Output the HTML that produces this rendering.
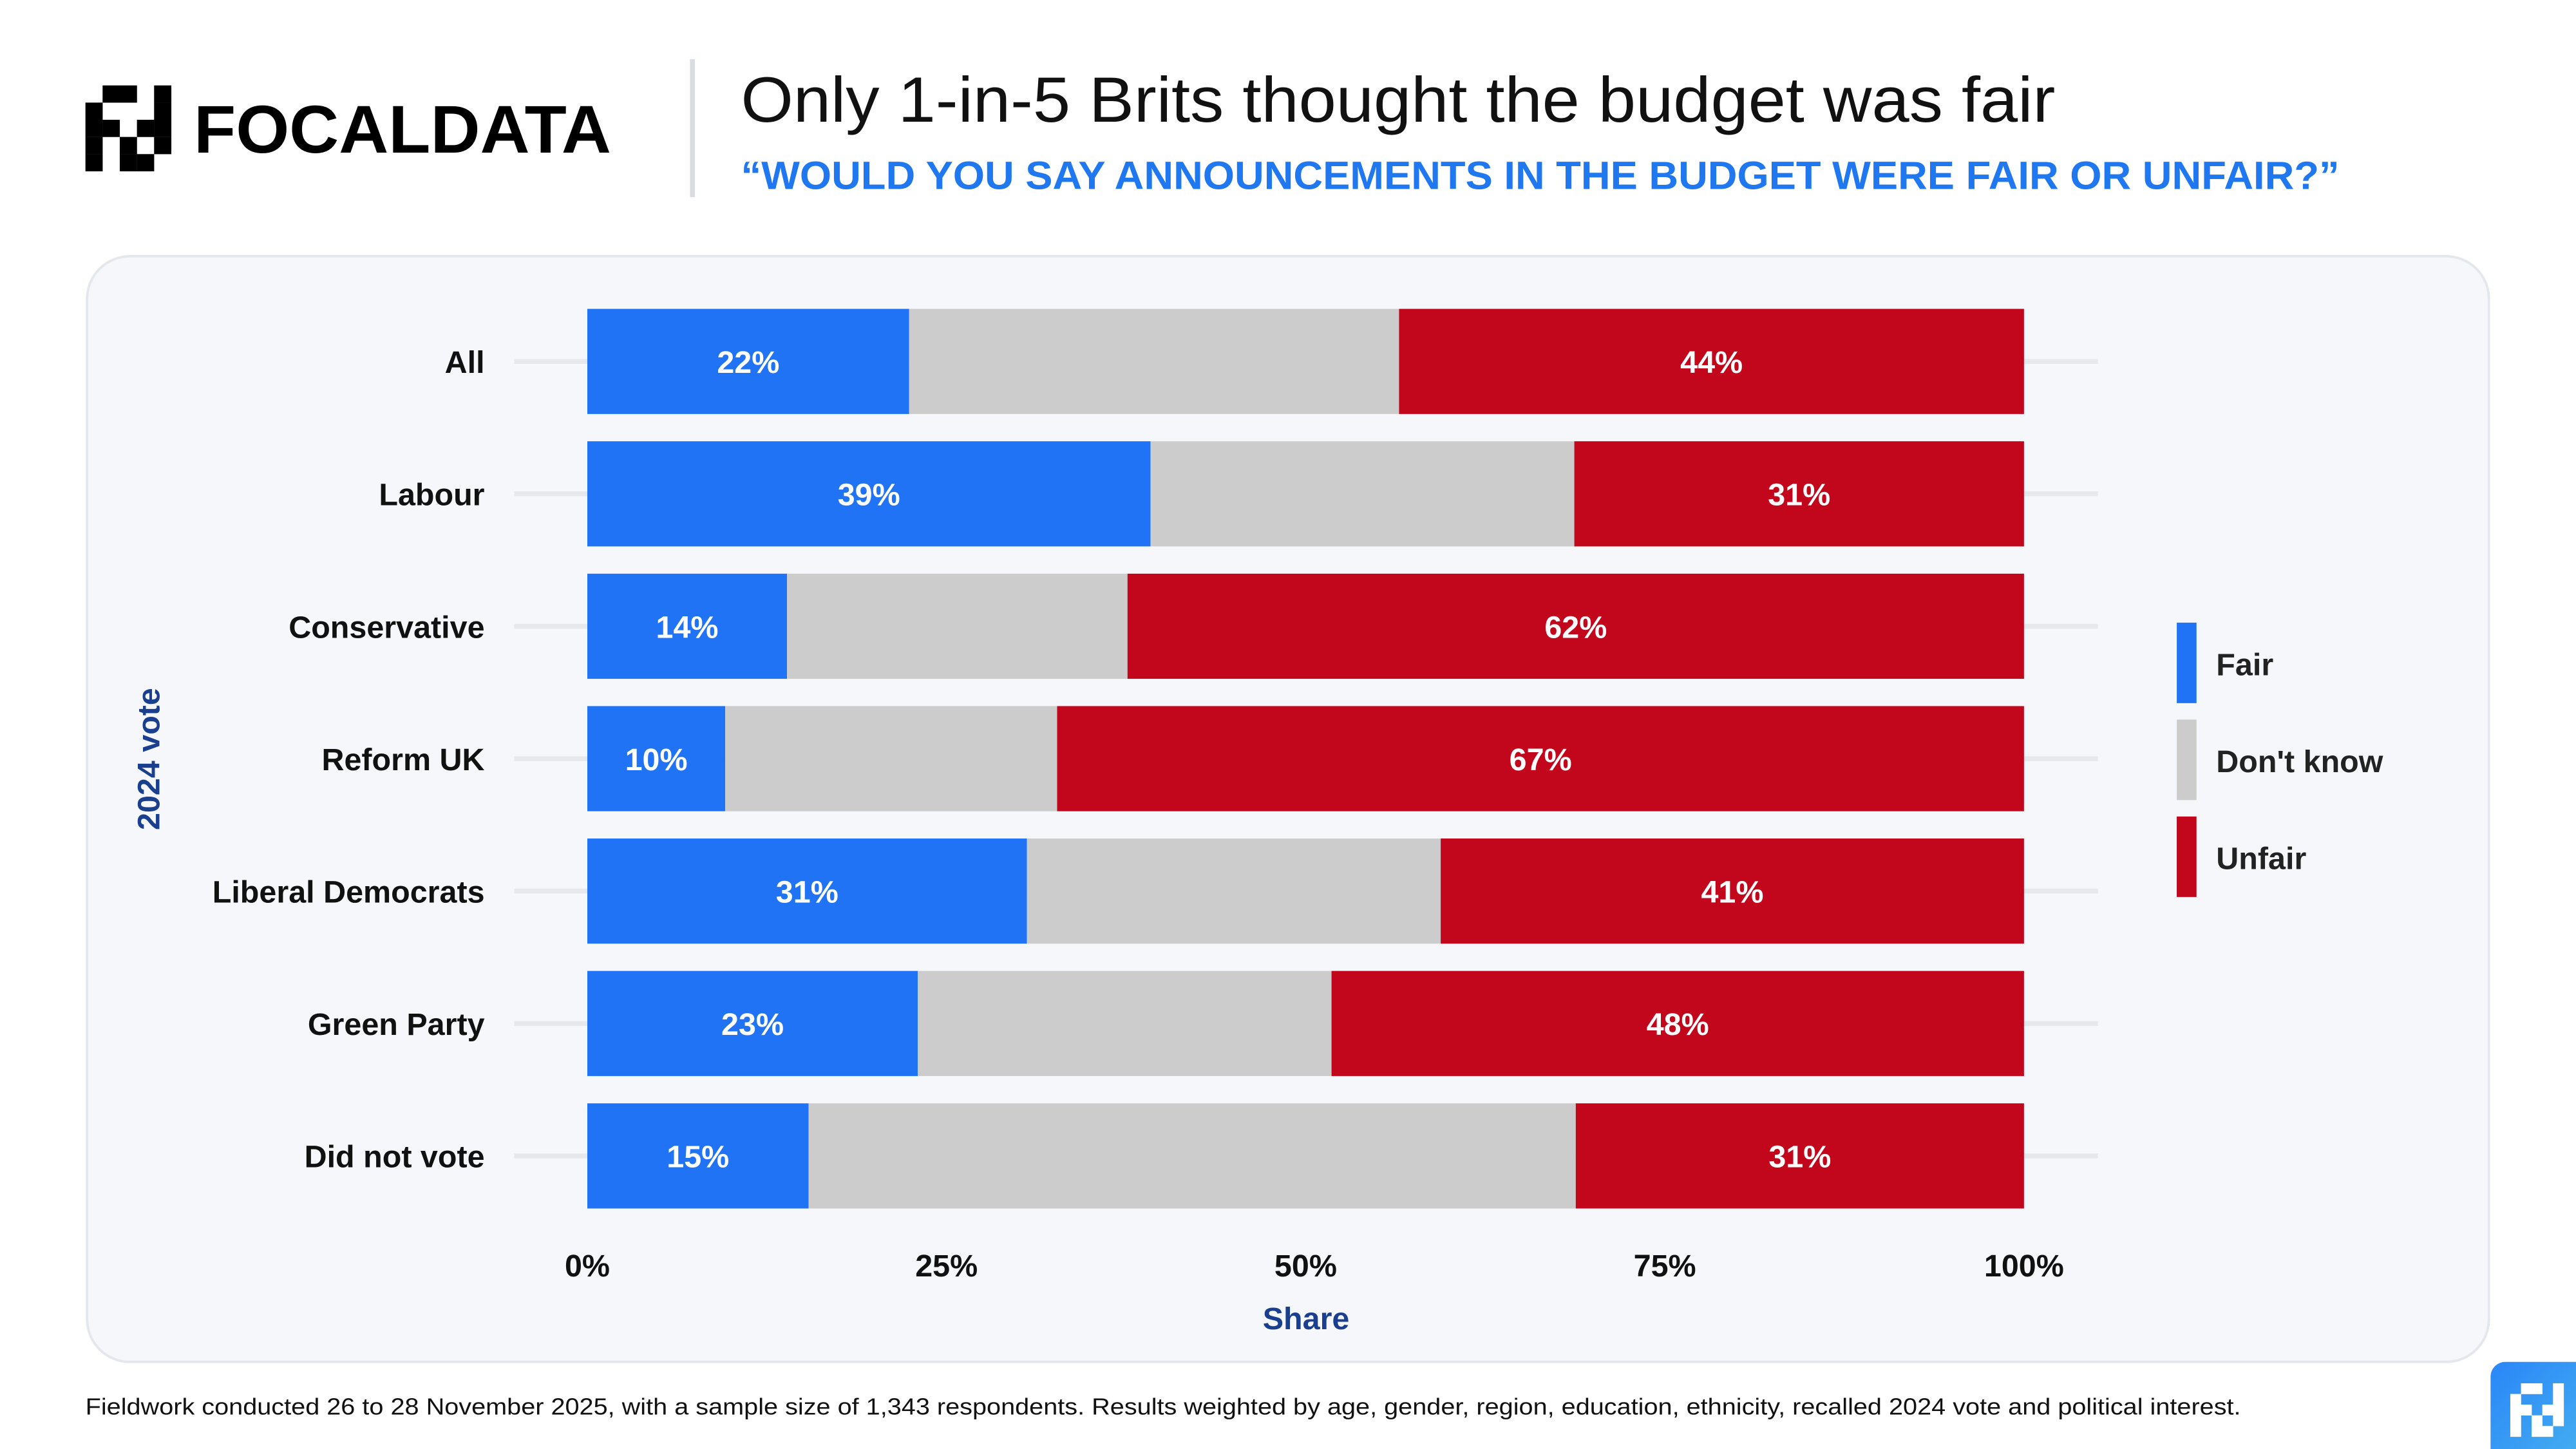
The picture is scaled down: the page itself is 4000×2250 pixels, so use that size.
<!DOCTYPE html>
<html><head><meta charset="utf-8"><style>
html,body{margin:0;padding:0;background:#fff;}
svg{display:block;font-family:"Liberation Sans",sans-serif;}
</style></head><body>
<svg width="4000" height="2250" viewBox="0 0 1568 882" xmlns="http://www.w3.org/2000/svg">
<defs><linearGradient id="g" x1="0" y1="0" x2="1" y2="1"><stop offset="0" stop-color="#2a86f8"/><stop offset="1" stop-color="#4ab8ee"/></linearGradient></defs>
<g id="logo"></g>
<text x="118" y="93" font-size="41" font-weight="bold" fill="#000" textLength="254" lengthAdjust="spacingAndGlyphs">FOCALDATA</text>
<rect x="420" y="36" width="3" height="84" fill="#d9dce3"/>
<text x="451" y="74" font-size="39" fill="#111" textLength="800" lengthAdjust="spacingAndGlyphs">Only 1-in-5 Brits thought the budget was fair</text>
<text x="451" y="115" font-size="24" font-weight="bold" fill="#2078f0" textLength="973" lengthAdjust="spacingAndGlyphs">“WOULD YOU SAY ANNOUNCEMENTS IN THE BUDGET WERE FAIR OR UNFAIR?”</text>
<rect x="53" y="156" width="1462" height="673" rx="26" fill="#f5f7fa" stroke="#e4e7ec" stroke-width="1.5"/>
<g id="plot"></g>
<text x="795" y="809" font-size="19" font-weight="bold" fill="#1a3f8f" text-anchor="middle">Share</text>
<text transform="translate(97,462) rotate(-90)" font-size="19" font-weight="bold" fill="#1a3f8f" text-anchor="middle">2024 vote</text>
<g>
<rect x="1325" y="379" width="12" height="49" fill="#2173f6"/>
<text x="1349" y="411" font-size="19" font-weight="bold" fill="#222">Fair</text>
<rect x="1325" y="438" width="12" height="49" fill="#cccccc"/>
<text x="1349" y="470" font-size="19" font-weight="bold" fill="#222">Don't know</text>
<rect x="1325" y="497" width="12" height="49" fill="#c2061b"/>
<text x="1349" y="529" font-size="19" font-weight="bold" fill="#222">Unfair</text>
</g>
<text x="52" y="861" font-size="14" fill="#111" textLength="1312" lengthAdjust="spacingAndGlyphs">Fieldwork conducted 26 to 28 November 2025, with a sample size of 1,343 respondents. Results weighted by age, gender, region, education, ethnicity, recalled 2024 vote and political interest.</text>
<g>
<rect x="1516" y="829" width="70" height="70" rx="9" fill="url(#g)"/>
<g id="corner"></g>
</g>
</svg>
<script>
const categories = ["All","Labour","Conservative","Reform UK","Liberal Democrats","Green Party","Did not vote"];
const fairValues = [22.4,39.2,13.9,9.6,30.6,23,15.4];
const dontKnowValues = [34.1,29.5,23.7,23.1,28.8,28.8,53.4];
const unfairValues = [43.5,31.3,62.4,67.3,40.6,48.2,31.2];
const xTicks = [0,25,50,75,100];
const xTickLabels = ["0%","25%","50%","75%","100%"];

const NS="http://www.w3.org/2000/svg";
function mk(tag,attrs,parent){const e=document.createElementNS(NS,tag);for(const k in attrs)e.setAttribute(k,attrs[k]);parent.appendChild(e);return e;}
const cells=[[1,0],[2,0],[4,0],[0,1],[4,1],[0,2],[1,2],[3,2],[4,2],[0,3],[2,3],[4,3],[0,4],[2,4],[3,4]];
const logo=document.getElementById('logo'), corner=document.getElementById('corner');
cells.forEach(c=>{
  const r=mk('rect',{x:52+c[0]*10.45,y:52+c[1]*10.45,width:10.5,height:10.5,fill:'#000'},logo);
  
  
  const r2=mk('rect',{x:1528+c[0]*6.5,y:842+c[1]*6.5,width:6.6,height:6.6,fill:'#fff'},corner);
  
  
});
const plot=document.getElementById('plot');
const x0=357.5,x1=1232;
const xs=v=>x0+(x1-x0)*v/100;
const rowY=i=>220+i*80.6;
const barH=64;
categories.forEach((c,i)=>{
  const y=rowY(i);
  const g=mk('line',{x1:313,x2:1277,y1:y,y2:y,stroke:'#e6e8ec','stroke-width':3},plot);
  
  
  const t=mk('text',{x:295,y:y+7,'font-size':19,'font-weight':'bold','text-anchor':'end',fill:'#111'},plot);
  t.textContent=c;
  
  
});
xTicks.forEach((v,i)=>{
  const t=mk('text',{x:xs(v),y:777,'font-size':19,'font-weight':'bold','text-anchor':'middle',fill:'#111'},plot);
  t.textContent=xTickLabels[i];
  
  
});
const series=[[fairValues,'#2173f6','fair',true],[dontKnowValues,'#cccccc','dont-know',false],[unfairValues,'#c2061b','unfair',true]];
categories.forEach((c,i)=>{
  let acc=0;const y=rowY(i);
  series.forEach(s=>{
    const v=s[0][i];
    const r=mk('rect',{x:xs(acc),y:y-barH/2,width:xs(acc+v)-xs(acc),height:barH,fill:s[1]},plot);
    
    
    if(s[3]){
      const t=mk('text',{x:(xs(acc)+xs(acc+v))/2,y:y+7,'font-size':19,'font-weight':'bold','text-anchor':'middle',fill:'#fff'},plot);
      t.textContent=Math.round(v)+'%';
      
      
    }
    acc+=v;
  });
});
</script>
</body></html>
